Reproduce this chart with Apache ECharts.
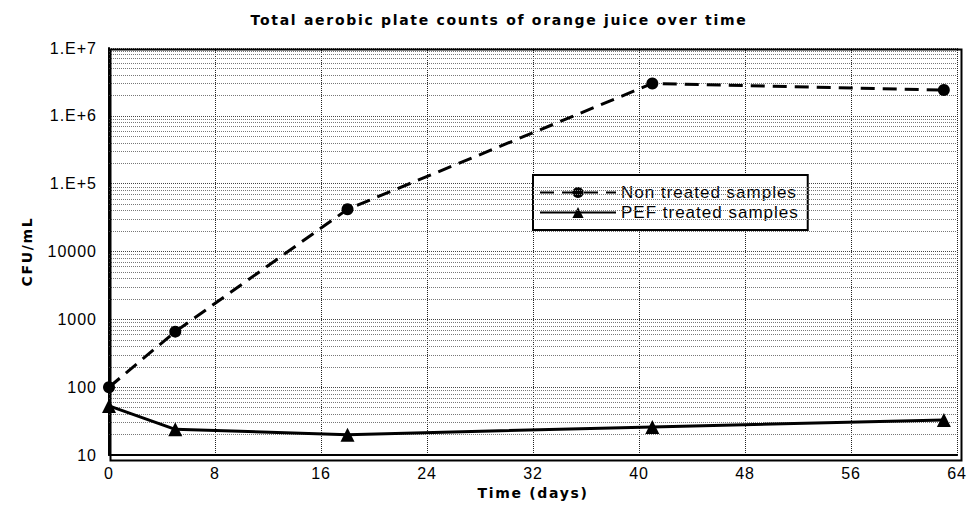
<!DOCTYPE html>
<html>
<head>
<meta charset="utf-8">
<script src="https://cdn.jsdelivr.net/npm/echarts@6/dist/echarts.min.js"></script>
<style>
  html, body { margin: 0; padding: 0; background: #fff; }
  #chart { width: 969px; height: 505px; }
  /* the source chart uses a widely tracked font */
  #chart text { letter-spacing: 1px; }
  #chart text[style*="bold"] { letter-spacing: 1.7px; }
</style>
</head>
<body>
<div id="chart"></div>
<script>
const days = [0, 5, 18, 41, 63]
const nonTreated = [100, 660, 42000, 3000000, 2400000]
const pefTreated = [53, 24, 20, 26, 33]
const yTickValues = [10, 100, 1000, 10000, 100000, 1000000, 10000000]
const yTickLabels = ['10', '100', '1000', '10000', '1.E+5', '1.E+6', '1.E+7']

// minor log gridlines (2..9 in each decade)
const minorLines = []
yTickValues.slice(0, -1).forEach(dec => {
  for (let m = 2; m <= 9; m++) minorLines.push({ yAxis: dec * m })
})

const chart = echarts.init(document.getElementById('chart'), null, { renderer: 'svg' })
const font = 'Liberation Sans, Arial, sans-serif'
const boldFont = 'DejaVu Sans, Liberation Sans, sans-serif'

chart.setOption({
  backgroundColor: '#fff',
  animation: false,
  title: {
    text: 'Total aerobic plate counts of orange juice over time',
    left: 494,
    top: 8,
    textAlign: 'center',
    textStyle: { fontFamily: boldFont, fontSize: 14, fontWeight: 'bold', color: '#000' }
  },
  legend: {
    data: ['Non treated samples', 'PEF treated samples'],
    orient: 'vertical',
    left: 533,
    top: 175,
    padding: [9, 28, 9, 6],
    itemGap: 3,
    itemWidth: 76,
    itemHeight: 14,
    backgroundColor: '#fff',
    borderColor: '#000',
    borderWidth: 2,
    borderRadius: 0,
    textStyle: { fontFamily: font, fontSize: 17, color: '#000' }
  },
  grid: { left: 109, right: 11, top: 48, bottom: 48 },
  xAxis: {
    type: 'value',
    min: 0,
    max: 64,
    interval: 8,
    name: 'Time (days)',
    nameLocation: 'middle',
    nameGap: 30,
    nameTextStyle: { fontFamily: boldFont, fontSize: 14, fontWeight: 'bold', color: '#000' },
    axisLine: { onZero: false, lineStyle: { color: '#000', width: 2 } },
    axisTick: { show: false },
    axisLabel: { fontFamily: font, fontSize: 16, color: '#000', margin: 10 },
    splitLine: { show: true, lineStyle: { color: '#222', type: 'dotted', width: 1 } }
  },
  yAxis: {
    type: 'log',
    logBase: 10,
    min: 10,
    max: 10000000,
    name: 'CFU/mL',
    nameLocation: 'middle',
    nameGap: 75,
    nameTextStyle: { fontFamily: boldFont, fontSize: 14, fontWeight: 'bold', color: '#000' },
    axisLine: { show: true, lineStyle: { color: '#000', width: 2 } },
    axisTick: { show: false },
    axisLabel: {
      fontFamily: font, fontSize: 16, color: '#000', margin: 12,
      formatter: v => {
        const i = yTickValues.findIndex(t => Math.abs(Math.log10(t) - Math.log10(v)) < 1e-6)
        return i >= 0 ? yTickLabels[i] : ''
      }
    },
    splitLine: { show: true, lineStyle: { color: '#444', type: 'dotted', width: 1 } }
  },
  series: [
    {
      name: 'grid',
      type: 'line',
      data: [[0, 10]],
      showSymbol: false,
      silent: true,
      z: 1,
      lineStyle: { width: 0 },
      markLine: {
        silent: true,
        symbol: 'none',
        label: { show: false },
        lineStyle: { color: '#777', type: 'dotted', width: 1 },
        data: minorLines
      }
    },
    {
      name: 'Non treated samples',
      type: 'line',
      data: days.map((d, i) => [d, nonTreated[i]]),
      symbol: 'circle',
      symbolSize: 12,
      z: 5,
      itemStyle: { color: '#000' },
      lineStyle: { color: '#000', width: 3, type: [14, 8] }
    },
    {
      name: 'PEF treated samples',
      type: 'line',
      data: days.map((d, i) => [d, pefTreated[i]]),
      symbol: 'triangle',
      symbolSize: 14,
      z: 5,
      itemStyle: { color: '#000' },
      lineStyle: { color: '#000', width: 3 }
    }
  ],
  graphic: [{
    type: 'rect',
    left: 108, top: 47,
    shape: { width: 851, height: 411 },
    style: { fill: 'none', stroke: '#000', lineWidth: 2 },
    z: 10,
    silent: true
  }]
})
</script>
</body>
</html>
